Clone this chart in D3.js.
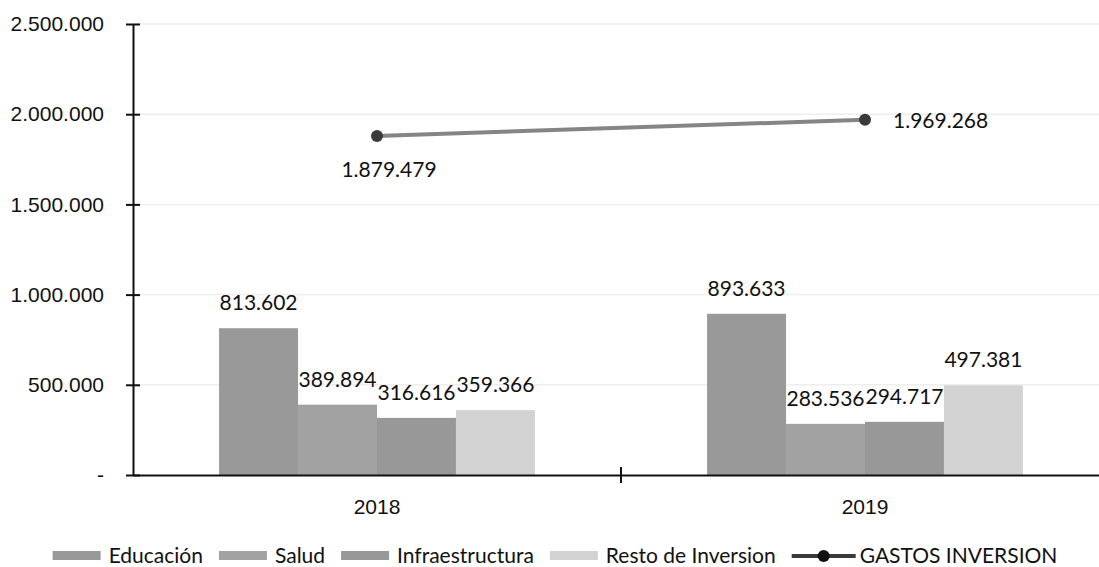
<!DOCTYPE html>
<html>
  <head>
    <meta charset="utf-8">
    <title>Gastos de inversion 2018-2019</title>
    <script src="https://d3js.org/d3.v7.min.js"></script>
    <style>
      body { margin: 0; background: #fff; }
      svg { display: block; font-family: Lato, "Open Sans", sans-serif; }
      .axis text { font-size: 21px; fill: #111; }
      .label { font-size: 21px; fill: #111; }
      .legend text { font-size: 21px; fill: #111; }
    </style>
  </head>
  <body>
    <svg id="chart" width="1099" height="567"></svg>
    <script>
      // chart data
      var years = ["2018", "2019"];
      var series = ["Educación", "Salud", "Infraestructura", "Resto de Inversion"];
      var barValues = [
        [813602, 389894, 316616, 359366],
        [893633, 283536, 294717, 497381]
      ];
      var lineName = "GASTOS INVERSION";
      var lineValues = [1879479, 1969268];
      var yTicks = [0, 500000, 1000000, 1500000, 2000000, 2500000];
      var colours = ["#999999", "#a2a2a2", "#989898", "#d2d2d2"];

      var svg = d3.select("#chart");
      var margin = { top: 24, right: -10, bottom: 92, left: 133 };
      var width = 1099 - margin.left - margin.right;
      var height = 567 - margin.top - margin.bottom;
      var g = svg.append("g")
        .attr("transform", "translate(" + margin.left + "," + margin.top + ")");

      // number format with dots as thousands separator
      var es = d3.formatLocale({ decimal: ",", thousands: ".", grouping: [3], currency: ["", "€"] });
      var fmt = es.format(",.0f");

      var x0 = d3.scaleBand().domain(years).range([0, width]);
      var x1 = d3.scaleBand().domain(series).range([0, x0.bandwidth()]).paddingOuter(1.09);
      var y = d3.scaleLinear().domain([0, 2500000]).range([height, 0]);

      // gridlines
      g.append("g")
        .selectAll("line")
          .data(yTicks.slice(1))
        .enter().append("line")
          .attr("x1", 0)
          .attr("x2", width)
          .attr("y1", function(d) { return y(d); })
          .attr("y2", function(d) { return y(d); })
          .style("stroke", "#eeeeee")
          .style("stroke-width", 1.5);

      // bars
      var groups = g.selectAll(".year")
          .data(barValues)
        .enter().append("g")
          .attr("class", "year")
          .attr("transform", function(d, i) { return "translate(" + x0(years[i]) + ",0)"; });
      groups.selectAll("rect")
          .data(function(d) { return d; })
        .enter().append("rect")
          .attr("x", function(d, i) { return x1(series[i]); })
          .attr("width", x1.bandwidth())
          .attr("y", function(d) { return y(d); })
          .attr("height", function(d) { return height - y(d); })
          .style("fill", function(d, i) { return colours[i]; });
      groups.selectAll("text")
          .data(function(d) { return d; })
        .enter().append("text")
          .attr("class", "label")
          .attr("x", function(d, i) { return x1(series[i]) + x1.bandwidth() / 2; })
          .attr("y", function(d) { return y(d) - 18; })
          .attr("text-anchor", "middle")
          .text(function(d) { return fmt(d); });

      // y axis
      var yAxis = d3.axisLeft(y)
        .tickValues(yTicks)
        .tickSizeInner(7)
        .tickSizeOuter(0)
        .tickPadding(22)
        .tickFormat(function(d) { return d === 0 ? "-" : fmt(d); });
      var yG = g.append("g").attr("class", "axis").call(yAxis);
      yG.select(".domain").style("stroke", "#111").style("stroke-width", 2);
      yG.selectAll(".tick line")
        .attr("x1", 7)
        .style("stroke", "#111")
        .style("stroke-width", 2);

      // x axis
      var xAxis = d3.axisBottom(x0).tickSize(0).tickPadding(24);
      var xG = g.append("g").attr("class", "axis")
        .attr("transform", "translate(0," + height + ")")
        .call(xAxis);
      xG.select(".domain").style("stroke", "#111").style("stroke-width", 2);
      xG.append("line")
        .attr("x1", x0(years[1]))
        .attr("x2", x0(years[1]))
        .attr("y1", -8)
        .attr("y2", 8)
        .style("stroke", "#111")
        .style("stroke-width", 2);

      // line series
      var cx = function(i) { return x0(years[i]) + x0.bandwidth() / 2; };
      var line = d3.line()
        .x(function(d, i) { return cx(i); })
        .y(function(d) { return y(d); });
      g.append("path")
        .datum(lineValues)
        .attr("d", line)
        .style("fill", "none")
        .style("stroke", "#858585")
        .style("stroke-width", 4);
      g.selectAll(".dot")
          .data(lineValues)
        .enter().append("circle")
          .attr("class", "dot")
          .attr("cx", function(d, i) { return cx(i); })
          .attr("cy", function(d) { return y(d); })
          .attr("r", 6)
          .style("fill", "#3a3a3a");
      g.selectAll(".lineLabel")
          .data(lineValues)
        .enter().append("text")
          .attr("class", "label")
          .attr("x", function(d, i) { return i === 0 ? cx(i) + 12 : cx(i) + 28; })
          .attr("y", function(d, i) { return i === 0 ? y(d) + 41 : y(d) + 8; })
          .attr("text-anchor", function(d, i) { return i === 0 ? "middle" : "start"; })
          .text(function(d) { return fmt(d); });

      // legend
      var legend = svg.append("g").attr("class", "legend");
      var items = series.concat([lineName]);
      var lx = 0;
      var legendItems = legend.selectAll("g")
          .data(items)
        .enter().append("g");
      legendItems.each(function(d, i) {
        var item = d3.select(this);
        if (i < series.length) {
          item.append("rect")
            .attr("x", 0).attr("y", -7)
            .attr("width", 48).attr("height", 9)
            .style("fill", colours[i]);
        } else {
          item.append("line")
            .attr("x1", 0).attr("x2", 64).attr("y1", -2).attr("y2", -2)
            .style("stroke", "#3a3a3a").style("stroke-width", 4);
          item.append("circle")
            .attr("cx", 32).attr("cy", -2).attr("r", 6)
            .style("fill", "#111");
        }
        var t = item.append("text")
          .attr("x", i < series.length ? 56 : 68)
          .attr("y", 5)
          .text(d);
        item.attr("transform", "translate(" + lx + ",0)");
        lx += (i < series.length ? 56 : 68) + t.node().getComputedTextLength() + 16;
      });
      var total = lx - 16;
      legend.attr("transform", "translate(" + (555 - total / 2) + ",558)");
    </script>
  </body>
</html>
